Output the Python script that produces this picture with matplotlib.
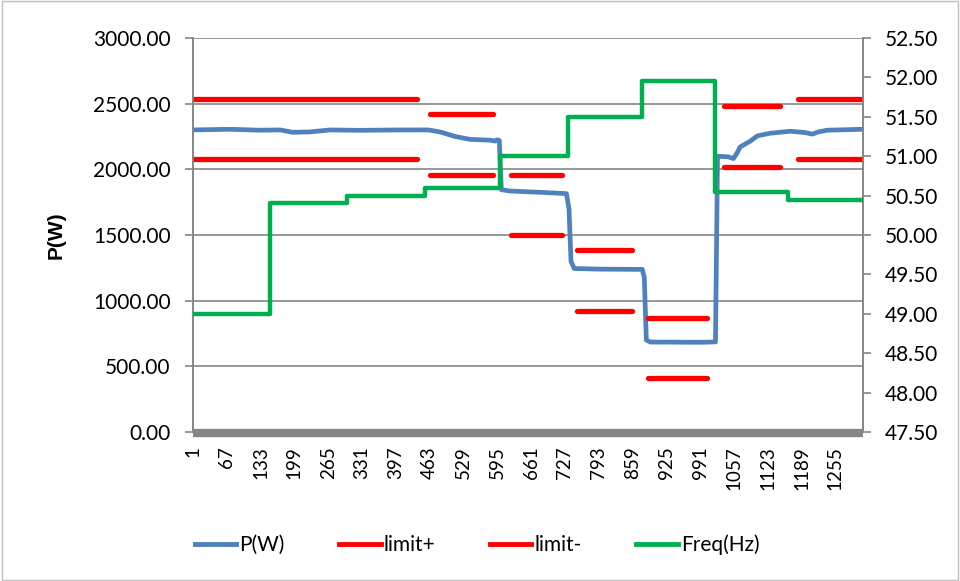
import numpy as np
import matplotlib
matplotlib.use("Agg")
import matplotlib.pyplot as plt
from matplotlib.patches import Rectangle

plt.rcParams['font.family'] = ['Lato', 'DejaVu Sans']

# ---- data (sample index, value) ----
n_samples = 1309
p_idx = [1, 73, 132, 171, 196, 229, 269, 327, 405, 460, 483, 513, 542, 581, 591, 595, 599,
         603, 620, 679, 730, 735, 739, 745, 796, 878, 882, 886, 894, 991, 1021,
         1025, 1046, 1056, 1064, 1069, 1089, 1103, 1128, 1167, 1196, 1210, 1222, 1239, 1309]
p_val = [2300, 2305, 2298, 2300, 2282, 2285, 2300, 2297, 2300, 2300, 2285, 2250, 2228, 2222, 2215, 2225, 2220,
         1845, 1835, 1825, 1815, 1700, 1300, 1245, 1240, 1238, 1180, 700, 685, 683, 686,
         2100, 2095, 2082, 2130, 2170, 2215, 2255, 2275, 2290, 2280, 2268, 2285, 2298, 2305]

freq_start = [1, 151, 302, 454, 601, 733, 878, 1020, 1163, 1309]
freq_val = [49.0, 50.4, 50.5, 50.6, 51.0, 51.5, 51.95, 50.55, 50.45, 50.45]

lim_start = [1, 464, 622, 751, 890, 1038, 1183]
lim_end = [439, 587, 722, 858, 1005, 1146, 1309]
lim_plus = [2535, 2420, 1960, 1385, 868, 2480, 2535]
lim_minus = [2075, 1960, 1500, 925, 410, 2020, 2075]

tick_labels = list(range(1, 1256, 66))

# ---- figure ----
W, H = 960, 581
fig = plt.figure(figsize=(W / 100, H / 100), dpi=100)
ax = fig.add_axes([193 / W, 1 - 432 / H, (863 - 193) / W, (432 - 38) / H])
ax2 = ax.twinx()

blue = '#4F81BD'
red = '#FF0000'
green = '#00B050'
gray = '#868686'

ax.plot(p_idx, p_val, color=blue, lw=3.4, solid_joinstyle='round', solid_capstyle='round', zorder=3)

lx, lp, lm = [], [], []
for s, e, a, b in zip(lim_start, lim_end, lim_plus, lim_minus):
    lx += [s, e, np.nan]
    lp += [a, a, np.nan]
    lm += [b, b, np.nan]
ax.plot(lx, lp, color=red, lw=3.8, solid_capstyle='round', zorder=4)
ax.plot(lx, lm, color=red, lw=3.8, solid_capstyle='round', zorder=4)

ax2.plot(freq_start, freq_val, color=green, lw=3.2, drawstyle='steps-post',
         solid_joinstyle='round', zorder=5)

ax.set_xlim(1, n_samples)
ax.set_ylim(0, 3000)
ax2.set_ylim(47.5, 52.5)

ax.set_yticks(np.arange(0, 3001, 500))
ax.set_yticklabels([f"{v:.2f}" for v in np.arange(0, 3001, 500)])
ax2.set_yticks(np.arange(47.5, 52.51, 0.5))
ax2.set_yticklabels([f"{v:.2f}" for v in np.arange(47.5, 52.51, 0.5)])

ax.set_xticks(tick_labels)
ax.set_xticklabels([str(t) for t in tick_labels], rotation=90, fontsize=13.5)

ax.grid(axis='y', color=gray, lw=1.2, zorder=0)
ax.set_axisbelow(True)

for a in (ax, ax2):
    a.spines['top'].set_visible(False)
    a.spines['left'].set_color(gray)
    a.spines['right'].set_color(gray)
    a.spines['bottom'].set_visible(False)
    a.spines['left'].set_linewidth(1.2)
    a.spines['right'].set_linewidth(1.2)

ax.tick_params(axis='y', length=6, width=1.2, color=gray, pad=10, labelsize=15)
ax2.tick_params(axis='y', length=6, width=1.2, color=gray, pad=10, labelsize=15)
ax.tick_params(axis='x', length=0, pad=10)

# thick x-axis bar
ax.axhline(-8, color=gray, lw=6, zorder=6, clip_on=False, solid_capstyle='butt')

ax.set_ylabel('P(W)', fontsize=15, fontweight='bold', labelpad=20,
              family=['Liberation Sans', 'DejaVu Sans'])

handles = [plt.Line2D([], [], color=blue, lw=3.5),
           plt.Line2D([], [], color=red, lw=3.5),
           plt.Line2D([], [], color=red, lw=3.5),
           plt.Line2D([], [], color=green, lw=3.5)]
fig.legend(handles, ['P(W)', 'limit+', 'limit-', 'Freq(Hz)'], loc='center',
           bbox_to_anchor=(477 / W, 1 - 545 / H), ncol=4, frameon=False, fontsize=15,
           handlelength=2.0, columnspacing=2.6, handletextpad=0.15)

fig.add_artist(Rectangle((0.002, 0.002), 0.996, 0.996, transform=fig.transFigure,
                         fill=False, edgecolor='#BFBFBF', lw=1))

fig.savefig('out.png', dpi=100)
